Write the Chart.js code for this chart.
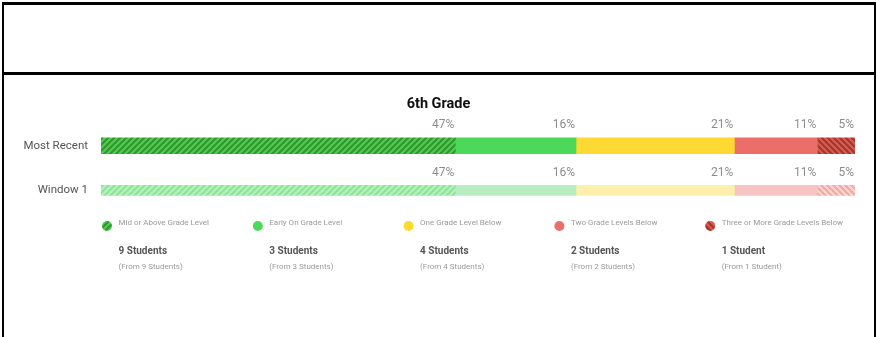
<!DOCTYPE html>
<html>
<head>
<meta charset="utf-8">
<title>6th Grade</title>
<script src="https://cdn.jsdelivr.net/npm/chart.js@4/dist/chart.umd.min.js"></script>
<style>
  html, body { margin: 0; padding: 0; background: #fff; }
  body { width: 877px; height: 337px; position: relative; overflow: hidden; }
  #grade { position: absolute; left: 0; top: 0; }
  .top-box {
    position: absolute; left: 2px; top: 2px; width: 870px; height: 67px;
    border-top: 3px solid #000; border-bottom: 3px solid #000;
    border-left: 2px solid #000; border-right: 2px solid #000;
    pointer-events: none;
  }
  .bottom-box {
    position: absolute; left: 2px; top: 75px; width: 870px; height: 262px;
    border-left: 2px solid #000; border-right: 2px solid #000;
    pointer-events: none;
  }
</style>
</head>
<body>
<canvas id="grade" width="877" height="337"></canvas>
<div class="top-box"></div>
<div class="bottom-box"></div>
<script>
// rows and reading levels
const categories = ['Most Recent', 'Window 1'];
const levels = ['Mid or Above Grade Level', 'Early On Grade Level', 'One Grade Level Below', 'Two Grade Levels Below', 'Three or More Grade Levels Below'];
// percent of students per level
const recentPct = [47, 16, 21, 11, 5];
const windowPct = [47, 16, 21, 11, 5];
// student counts shown under the legend
const studentCounts = [9, 3, 4, 2, 1];
const fromCounts = [9, 3, 4, 2, 1];

// diagonal stripe fill, dir 1 = "/" and -1 = "\"
const stripes = (base, line, dir) => {
    const c = document.createElement('canvas');
    c.width = 6;
    c.height = 6;
    const g = c.getContext('2d');
    g.fillStyle = base;
    g.fillRect(0, 0, 6, 6);
    g.strokeStyle = line;
    g.lineWidth = 2.1;
    g.beginPath();
    if (dir > 0) {
        g.moveTo(-1, 1); g.lineTo(1, -1);
        g.moveTo(0, 6); g.lineTo(6, 0);
        g.moveTo(5, 7); g.lineTo(7, 5);
    } else {
        g.moveTo(-1, 5); g.lineTo(1, 7);
        g.moveTo(0, 0); g.lineTo(6, 6);
        g.moveTo(5, -1); g.lineTo(7, 1);
    }
    g.stroke();
    return g.createPattern(c, 'repeat');
};

const recentColors = [
    stripes('#48d053', '#36932d', 1),
    '#4cd95a',
    '#fed932',
    '#ec6e68',
    stripes('#d95c52', '#9e382e', -1)
];
const windowColors = [
    stripes('#b7efbf', '#8fe39b', 1),
    '#b8edc1',
    '#fdefac',
    '#f6c4c3',
    stripes('#fbd5d2', '#f2a8a5', -1)
];

// one dataset per level and row so each row keeps its own bar thickness
const datasets = [];
levels.forEach((level, i) => {
    datasets.push({
        label: level,
        data: [recentPct[i], null],
        backgroundColor: recentColors[i],
        barThickness: 16,
        stack: 'levels'
    });
    datasets.push({
        label: level,
        data: [null, windowPct[i]],
        backgroundColor: windowColors[i],
        barThickness: 10,
        stack: 'levels'
    });
});

// percent text over the right end of each segment
const percentLabels = {
    id: 'percentLabels',
    afterDatasetsDraw(chart) {
        const c = chart.ctx;
        c.save();
        c.font = '12px Roboto, sans-serif';
        c.fillStyle = '#8d8d8d';
        c.textAlign = 'right';
        c.textBaseline = 'middle';
        chart.data.datasets.forEach((ds, d) => {
            const meta = chart.getDatasetMeta(d);
            meta.data.forEach((bar, i) => {
                const v = ds.data[i];
                if (v === null || v === undefined) return;
                const top = bar.y - bar.height / 2;
                c.fillText(v + '%', bar.x - 1, top - 12.5);
            });
        });
        c.restore();
    }
};

// legend with student counts, one column per level
const levelLegend = {
    id: 'levelLegend',
    afterDraw(chart) {
        const c = chart.ctx;
        const area = chart.chartArea;
        const step = (area.right - area.left) / levels.length;
        c.save();
        c.textAlign = 'left';
        c.textBaseline = 'middle';
        levels.forEach((level, i) => {
            const x = area.left + 6 + i * step;
            c.fillStyle = recentColors[i];
            c.beginPath();
            c.arc(x, 226, 5, 0, Math.PI * 2);
            c.fill();

            c.fillStyle = '#9a9a9a';
            c.font = '8px Roboto, sans-serif';
            c.fillText(level, x + 11.5, 223);

            const n = studentCounts[i];
            c.fillStyle = '#555';
            c.font = 'bold 10px Roboto, sans-serif';
            c.fillText(n + (n === 1 ? ' Student' : ' Students'), x + 11.5, 251);

            const f = fromCounts[i];
            c.fillStyle = '#9a9a9a';
            c.font = '8px Roboto, sans-serif';
            c.fillText('(From ' + f + (f === 1 ? ' Student)' : ' Students)'), x + 11.5, 267);
        });
        c.restore();
    }
};

Chart.defaults.font.family = 'Roboto, sans-serif';

const gradeChart = new Chart(document.querySelector('#grade'), {
    type: 'bar',
    data: {
        labels: categories,
        datasets: datasets
    },
    options: {
        indexAxis: 'y',
        responsive: false,
        animation: false,
        layout: {
            // equal side padding keeps the title centred on the page
            padding: { left: 22, right: 22, top: 96, bottom: 124.25 }
        },
        scales: {
            x: {
                stacked: true,
                min: 0,
                max: 100,
                display: false
            },
            y: {
                stacked: true,
                grid: { display: false, drawTicks: false },
                border: { display: false },
                ticks: {
                    color: '#555',
                    font: { size: 11.5 },
                    padding: 13
                },
                afterFit: (scale) => { scale.width = 79; }
            }
        },
        plugins: {
            legend: { display: false },
            tooltip: { enabled: false },
            title: {
                display: true,
                text: '6th Grade',
                color: '#111',
                font: { size: 14.5, weight: 'bold', lineHeight: 1.2 },
                padding: { top: 0, bottom: 10 }
            }
        }
    },
    plugins: [percentLabels, levelLegend]
});
</script>
</body>
</html>
